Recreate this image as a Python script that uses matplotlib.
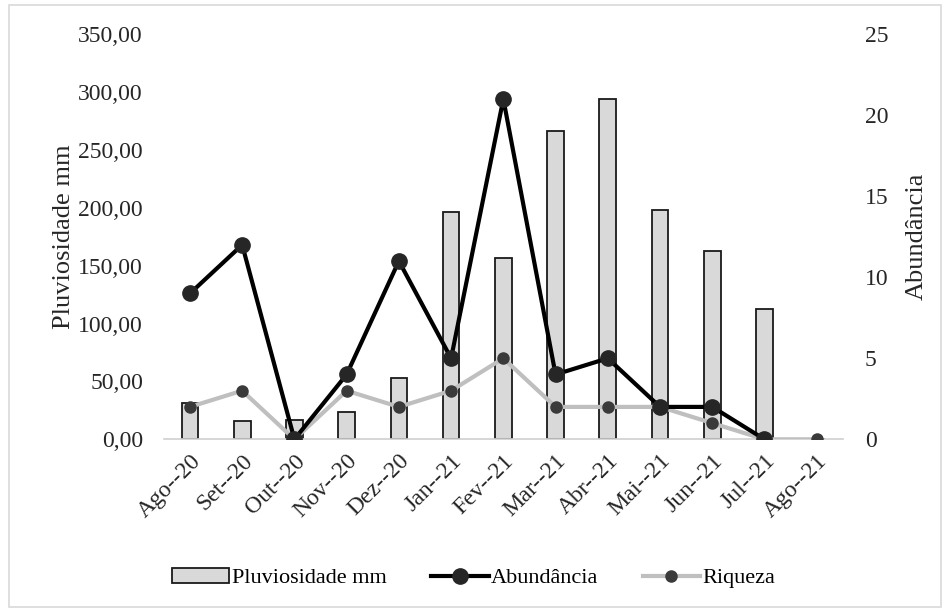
import numpy as np
import matplotlib.pyplot as plt
from matplotlib.patches import Rectangle
from matplotlib.ticker import FuncFormatter

plt.rcParams['font.family'] = ['Liberation Serif', 'DejaVu Serif']

meses = ['Ago--20', 'Set--20', 'Out--20', 'Nov--20', 'Dez--20', 'Jan--21', 'Fev--21',
         'Mar--21', 'Abr--21', 'Mai--21', 'Jun--21', 'Jul--21', 'Ago--21']
pluviosidade = [31, 16, 17, 24, 53, 196, 157, 266, 294, 198, 163, 113, 0]
abundancia = [9, 12, 0, 4, 11, 5, 21, 4, 5, 2, 2, 0, np.nan]
riqueza = [2, 3, 0, 3, 2, 3, 5, 2, 2, 2, 1, 0, 0]

fig = plt.figure(figsize=(9.47, 6.11), dpi=100)
ax = fig.add_axes([0.173, 0.281, 0.717, 0.663])
ax2 = ax.twinx()

x = np.arange(len(meses))
barras = ax.bar(x, pluviosidade, width=0.32, color='#d9d9d9', edgecolor='#1a1a1a',
                linewidth=1.3, label='Pluviosidade mm', zorder=2)

l1, = ax2.plot(x, abundancia, color='black', lw=3, marker='o', ms=11,
               mfc='#262626', mec='#262626', label='Abundância', zorder=4)
l2, = ax2.plot(x, riqueza, color='#bfbfbf', lw=3, marker='o', ms=8,
               mfc='#3a3a3a', mec='#3a3a3a', label='Riqueza', zorder=3)

ax.set_xlim(-0.5, len(meses) - 0.5)
ax.set_ylim(0, 350)
ax.set_yticks(np.arange(0, 351, 50))
ax.yaxis.set_major_formatter(FuncFormatter(lambda v, p: f'{v:.2f}'.replace('.', ',')))
ax2.set_ylim(0, 25)
ax2.set_yticks(np.arange(0, 26, 5))

ax.set_xticks(x)
ax.set_xticklabels(meses, rotation=45, ha='right', rotation_mode='anchor')

for a in (ax, ax2):
    for s in a.spines.values():
        s.set_visible(False)
    a.tick_params(length=0, labelsize=17, colors='#262626')
ax.tick_params(axis='y', pad=15)
ax.tick_params(axis='x', pad=8)
ax2.tick_params(axis='y', pad=16)
ax.spines['bottom'].set_visible(True)
ax.spines['bottom'].set_color('#d0d0d0')
ax.spines['bottom'].set_linewidth(1.2)

ax.set_ylabel('Pluviosidade mm', fontsize=19, color='#262626', labelpad=2)
ax2.set_ylabel('Abundância', fontsize=19, color='#262626', labelpad=12)

ax.set_zorder(1)
ax2.set_zorder(2)
ax.patch.set_visible(False)

fig.legend([barras, l1, l2], ['Pluviosidade mm', 'Abundância', 'Riqueza'],
           loc='center', bbox_to_anchor=(0.5, 0.054), ncol=3, frameon=False,
           fontsize=16, handlelength=2.6, handletextpad=0.1, columnspacing=2.0)

fig.patches.append(Rectangle((0.009, 0.006), 0.985, 0.985, transform=fig.transFigure,
                             fill=False, edgecolor='#d9d9d9', lw=1.2))

fig.savefig('out.png', dpi=100)
